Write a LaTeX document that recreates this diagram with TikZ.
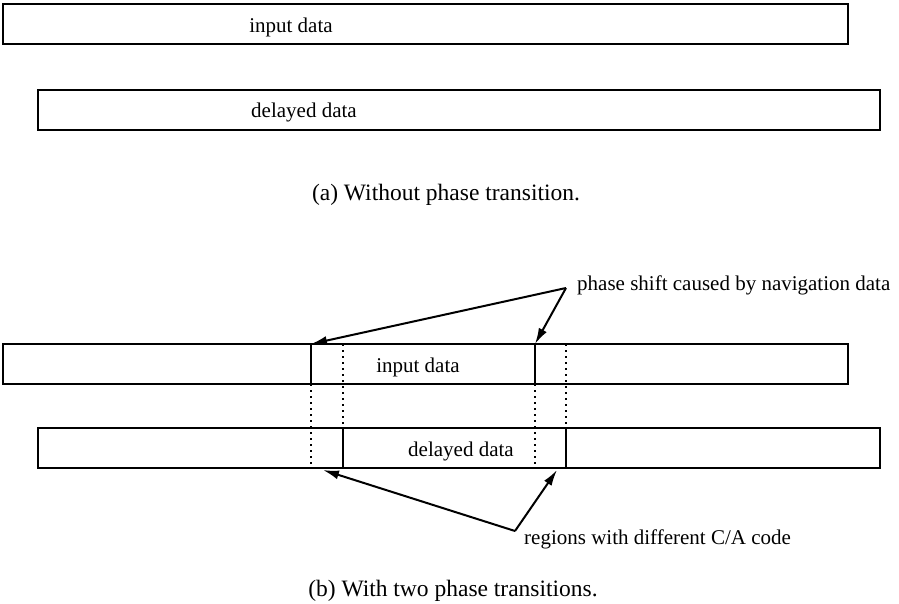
\documentclass[tikz,border=0pt]{standalone}
\usepackage{fontspec}
\setmainfont{Liberation Serif}
\usetikzlibrary{arrows.meta}
\begin{document}
\begin{tikzpicture}[x=1pt, y=-1pt,
  databox/.style={draw, line width=2pt, minimum height=40pt, inner sep=0pt, outer sep=0pt, anchor=north west},
  lbl/.style={font=\fontsize{21}{25}\selectfont, inner sep=0pt},
  captext/.style={font=\fontsize{23.5}{28}\selectfont, inner sep=0pt},
  solidmark/.style={line width=2pt},
  dotmark/.style={line width=1.6pt, dash pattern=on 1.6pt off 4.4pt},
  pointer/.style={-{Latex[length=16pt, width=9pt]}, line width=2pt}]
\useasboundingbox (0,0) rectangle (899,604);
% (a) without phase transition
\node[databox, minimum width=845pt] (inA) at (3,4) {};
\node[databox, minimum width=842pt] (delA) at (38,90) {};
\node[lbl] (inAtxt) at (291,27) {input data};
\node[lbl] (delAtxt) at (304,112) {delayed data};
\node[captext] (capA) at (446,195) {(a) Without phase transition.};
% (b) with two phase transitions
\node[databox, minimum width=845pt] (inB) at (3,344) {};
\node[databox, minimum width=842pt] (delB) at (38,428) {};
\node[lbl] (inBtxt) at (418,367) {input data};
\node[lbl] (delBtxt) at (461,451) {delayed data};
\foreach \x/\n in {311/a, 343/b, 535/c, 566/d} {
  \coordinate (top\n) at (\x,344);
  \coordinate (midup\n) at (\x,384);
  \coordinate (middn\n) at (\x,428);
  \coordinate (bot\n) at (\x,468);
}
\draw[solidmark] (topa) -- (midupa);
\draw[solidmark] (topc) -- (midupc);
\draw[dotmark] (midupa) -- (bota);
\draw[dotmark] (midupc) -- (botc);
\draw[dotmark] (topb) -- (middnb);
\draw[dotmark] (topd) -- (middnd);
\draw[solidmark] (middnb) -- (botb);
\draw[solidmark] (middnd) -- (botd);
% labels and pointers
\node[lbl, anchor=west] (shiftlbl) at (577,285) {phase shift caused by navigation data};
\coordinate (hubtop) at (566,288);
\draw[pointer] (hubtop) -- (topa);
\draw[pointer] (hubtop) -- (topc);
\node[lbl, anchor=west] (regionlbl) at (524,539) {regions with different C/A code};
\coordinate (hubbot) at (515,531);
\coordinate (regleft) at (323,470);
\coordinate (regright) at (557,470);
\draw[pointer] (hubbot) -- (regleft);
\draw[pointer] (hubbot) -- (regright);
\node[captext] (capB) at (453,591) {(b) With two phase transitions.};
\end{tikzpicture}
\end{document}
